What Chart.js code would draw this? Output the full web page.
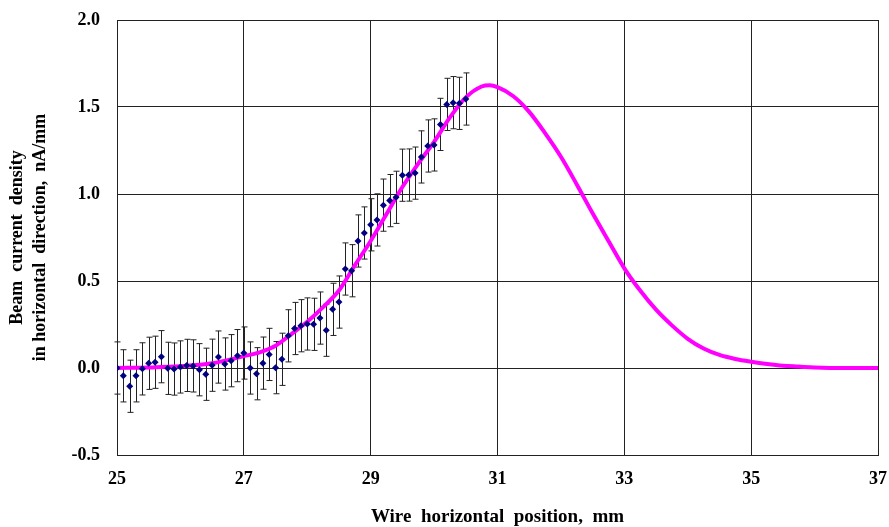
<!DOCTYPE html>
<html>
<head>
<meta charset="utf-8">
<script src="https://cdn.jsdelivr.net/npm/chart.js@4"></script>
<style>
    html, body { margin: 0; padding: 0; background: #fff; }
    #wrap { width: 889px; height: 527px; position: relative; }
</style>
</head>
<body>
<div id="wrap"><canvas id="chart-beam"></canvas></div>
<script>
// measured points, 0.1 mm step
const POS_X = [
    25.0, 25.1, 25.2, 25.3, 25.4, 25.5, 25.6, 25.7, 25.8, 25.9,
    26.0, 26.1, 26.2, 26.3, 26.4, 26.5, 26.6, 26.7, 26.8, 26.9,
    27.0, 27.1, 27.2, 27.3, 27.4, 27.5, 27.6, 27.7, 27.8, 27.9,
    28.0, 28.1, 28.2, 28.3, 28.4, 28.5, 28.6, 28.7, 28.8, 28.9,
    29.0, 29.1, 29.2, 29.3, 29.4, 29.5, 29.6, 29.7, 29.8, 29.9,
    30.0, 30.1, 30.2, 30.3, 30.4, 30.5
];
const MEAS_Y = [
    0.000, -0.045, -0.105, -0.045, -0.005, 0.027, 0.033, 0.065, -0.002, -0.006,
    0.006, 0.015, 0.012, -0.010, -0.036, 0.016, 0.063, 0.023, 0.042, 0.071,
    0.086, 0.000, -0.033, 0.028, 0.078, 0.002, 0.050, 0.185, 0.227, 0.243,
    0.253, 0.251, 0.287, 0.217, 0.337, 0.379, 0.569, 0.559, 0.730, 0.776,
    0.823, 0.851, 0.936, 0.962, 0.981, 1.108, 1.109, 1.120, 1.213, 1.276,
    1.282, 1.400, 1.515, 1.525, 1.521, 1.546
];
const ERR = 0.15;   // half length of error bars, nA/mm

// fitted curve
const CURVE_X = [
    25, 25.5, 26, 26.5, 27, 27.25, 27.5, 27.75, 28, 28.25, 28.5, 28.75,
    29, 29.25, 29.5, 29.75, 30, 30.25, 30.5, 30.75, 30.875, 31, 31.25, 31.5,
    31.75, 32, 32.25, 32.5, 32.75, 33, 33.25, 33.5, 33.75, 34, 34.25, 34.5,
    34.75, 35, 35.25, 35.5, 35.75, 36, 36.5, 37
];
const CURVE_Y = [
    0.000, 0.003, 0.010, 0.027, 0.068, 0.090, 0.128, 0.195, 0.266, 0.350, 0.445, 0.590,
    0.730, 0.885, 1.040, 1.175, 1.300, 1.440, 1.555, 1.618, 1.625, 1.614, 1.562, 1.472,
    1.350, 1.214, 1.055, 0.889, 0.730, 0.573, 0.445, 0.335, 0.245, 0.168, 0.112, 0.075,
    0.052, 0.036, 0.023, 0.013, 0.008, 0.003, 0.000, 0.000
];

const X_MIN = 25, X_MAX = 37, X_STEP = 2;
const Y_MIN = -0.5, Y_MAX = 2.0, Y_STEP = 0.5;

const FONT = '"Liberation Serif", "Times New Roman", serif';
const GRID = '#222';

// error bars with small caps, drawn under the lines and markers
const errorBars = {
    id: 'errorBars',
    beforeDatasetsDraw(chart) {
        const { ctx, scales: { x, y } } = chart;
        ctx.save();
        ctx.strokeStyle = '#222';
        ctx.lineWidth = 1;
        POS_X.forEach((px, i) => {
            const cx = Math.round(x.getPixelForValue(px)) + 0.5;
            const top = y.getPixelForValue(MEAS_Y[i] + ERR);
            const bot = y.getPixelForValue(MEAS_Y[i] - ERR);
            ctx.beginPath();
            ctx.moveTo(cx, top); ctx.lineTo(cx, bot);
            ctx.moveTo(cx - 3, top); ctx.lineTo(cx + 3, top);
            ctx.moveTo(cx - 3, bot); ctx.lineTo(cx + 3, bot);
            ctx.stroke();
        });
        ctx.restore();
    }
};

new Chart(document.getElementById('chart-beam').getContext('2d'), {
    type: 'scatter',
    data: {
        datasets: [
            {
                label: 'measured',
                data: POS_X.map((px, i) => ({ x: px, y: MEAS_Y[i] })),
                pointStyle: 'rectRot', pointRadius: 3.5,
                backgroundColor: '#000080', borderColor: '#000080', borderWidth: 0,
                order: 1
            },
            {
                label: 'fit',
                type: 'line',
                data: CURVE_X.map((px, i) => ({ x: px, y: CURVE_Y[i] })),
                borderColor: '#ff00ff', borderWidth: 4,
                pointRadius: 0, cubicInterpolationMode: 'monotone',
                fill: false, order: 2
            }
        ]
    },
    options: {
        responsive: true, maintainAspectRatio: false, animation: false,
        layout: { padding: { top: 20, right: 11, bottom: 0, left: 0 } },
        plugins: { legend: { display: false }, tooltip: { enabled: false } },
        scales: {
            x: {
                type: 'linear', min: X_MIN, max: X_MAX,
                grid: { color: GRID, lineWidth: 1, drawTicks: false },
                border: { color: GRID, width: 1 },
                ticks: {
                    stepSize: X_STEP, padding: 14, color: '#000',
                    font: { family: FONT, size: 18, weight: 'bold' }
                },
                title: {
                    display: true, text: 'Wire  horizontal  position,  mm', color: '#000',
                    font: { family: FONT, size: 19, weight: 'bold', lineHeight: 1.0 },
                    padding: { top: 0, bottom: 0 }
                },
                afterFit: s => { s.height = 72; s.paddingLeft = 0; s.paddingRight = 0; }
            },
            y: {
                min: Y_MIN, max: Y_MAX,
                grid: { color: GRID, lineWidth: 1, drawTicks: false },
                border: { color: GRID, width: 1 },
                ticks: {
                    stepSize: Y_STEP, padding: 17, color: '#000',
                    font: { family: FONT, size: 18, weight: 'bold' },
                    callback: v => v.toFixed(1)
                },
                title: {
                    display: true,
                    text: ['Beam  current  density', 'in horizontal  direction,  nA/mm'],
                    color: '#000',
                    font: { family: FONT, size: 18, weight: 'bold', lineHeight: '23px' },
                    padding: { top: 6, bottom: 0 }
                },
                afterFit: s => { s.width = 117; s.paddingTop = 0; s.paddingBottom = 0; }
            }
        }
    },
    plugins: [errorBars]
});
</script>
</body>
</html>
